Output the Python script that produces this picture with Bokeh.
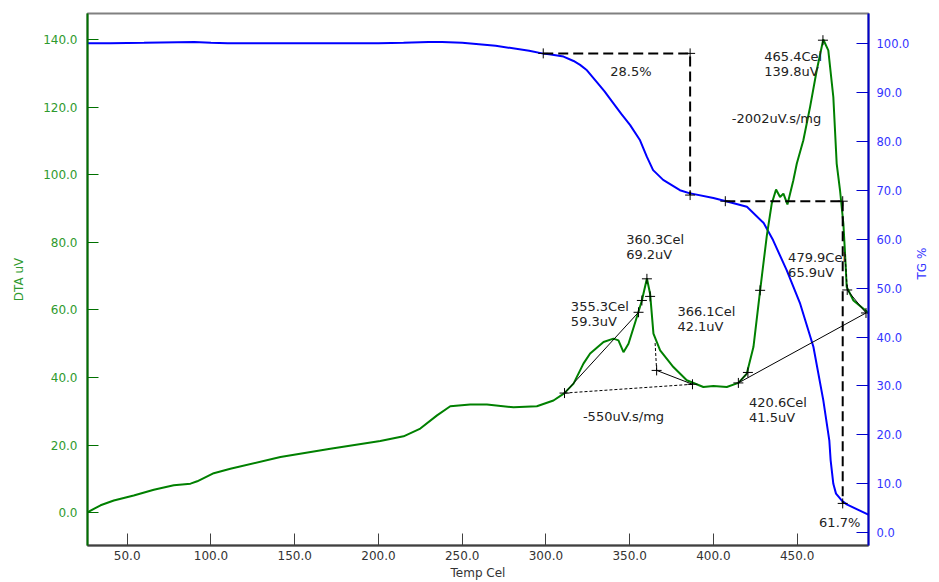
import math
from bokeh.plotting import figure
from bokeh.models import Range1d, LinearAxis, FixedTicker, PrintfTickFormatter
from bokeh.embed import file_html
from bokeh.resources import INLINE
from bokeh.core.properties import value

# ---------------- data ----------------
temp_tg = [26.3, 40, 60, 70, 90, 100, 110, 150, 200, 215, 230, 238, 250, 270, 290, 298.4,
           303, 310.5, 316.5, 320.4, 324.5, 330.4, 335, 340.2, 345, 350.3, 356.2, 360.3,
           364, 370, 380, 385.5, 400, 407, 420, 430, 435.6, 443.8, 451.8, 459.7, 465.6,
           469.2, 470.0, 471.6, 473.2, 476.6, 479.6, 492.5]
tg = [100.0, 100.0, 100.1, 100.2, 100.3, 100.1, 100.0, 100.0, 100.0, 100.1, 100.3, 100.3,
      100.1, 99.5, 98.5, 97.9, 97.7, 97.3, 96.4, 95.6, 94.5, 92.1, 90.2, 87.8, 85.6, 83.3,
      80.2, 76.8, 74.1, 72.1, 70.0, 69.4, 68.4, 67.8, 66.6, 63.3, 59.8, 53.6, 46.8, 38.0,
      27.1, 18.9, 14.8, 10.0, 8.0, 6.6, 5.8, 3.7]

temp_dta = [26.5, 34.1, 42.0, 53.9, 65.9, 77.8, 87.8, 91.8, 101.7, 111.6, 141.5, 171.3,
            201.1, 215.0, 225.0, 235.0, 242.9, 254.8, 264.8, 280.7, 294.6, 304.5, 310.9,
            316.5, 322.4, 326.4, 334.4, 340.3, 343.3, 346.3, 349.3, 354.3, 357.3, 360.3,
            362.2, 364.2, 368.2, 376.1, 384.1, 394.0, 400.0, 408.0, 414.9, 419.9, 423.9,
            427.9, 431.9, 434.8, 437.4, 439.8, 441.8, 444.2, 447.7, 449.8, 453.7, 457.7,
            461.7, 465.6, 468.6, 471.6, 473.6, 475.6, 477.6, 478.6, 479.6, 483.6, 492.6]
dta = [0.2, 2.2, 3.6, 5.1, 6.8, 8.1, 8.6, 9.3, 11.7, 13.0, 16.5, 18.9, 21.2, 22.6, 24.9,
       28.8, 31.5, 32.0, 32.0, 31.2, 31.5, 33.2, 35.3, 38.2, 44.1, 47.1, 50.5, 51.5, 51.0,
       47.5, 50.0, 57.9, 62.8, 69.3, 64.8, 53.0, 48.0, 43.1, 39.2, 37.2, 37.5, 37.2, 38.4,
       41.1, 49.0, 65.8, 82.0, 91.4, 95.6, 93.4, 94.4, 91.2, 98.3, 103.3, 110.2, 120.0,
       130.9, 140.0, 136.8, 123.0, 103.3, 95.4, 85.5, 76.6, 66.8, 62.8, 59.1]

# DTA analysis points (+ marks)
mark_temp = [311.1, 355.3, 357.3, 362.2, 360.3, 366.1, 387.5, 414.9, 420.6, 427.9, 465.4, 479.9, 491.1]
mark_dta = [35.4, 59.3, 62.8, 64.0, 69.2, 42.1, 38.0, 38.4, 41.5, 65.8, 139.8, 65.9, 59.1]

# DTA construction lines (solid / dashed)
solid_t0 = [311.1, 366.1, 414.9, 414.9, 479.9]
solid_d0 = [35.4, 42.1, 38.4, 38.4, 65.9]
solid_t1 = [355.3, 387.5, 491.1, 420.6, 491.1]
solid_d1 = [59.3, 38.0, 59.1, 41.5, 59.1]
dash_t0 = [311.1, 365.2, 478.6]
dash_d0 = [35.4, 50.2, 76.6]
dash_t1 = [387.5, 366.1, 479.9]
dash_d1 = [38.0, 42.1, 65.9]

# TG step analysis
step1_temp = [298.4, 386.1, 386.1]
step1_tg = [97.95, 97.95, 69.0]
step2_temp = [407.1, 478.0]
step2_tg = [67.75, 67.75]
step2v_temp = [477.2, 477.2]
step2v_tg = [67.75, 6.0]
tgmark_temp = [298.4, 386.1, 386.1, 407.1, 477.2, 477.2]
tgmark_tg = [97.95, 97.95, 69.0, 67.75, 67.75, 6.0]

# annotation texts (anchor = top-left, data units)
dta_lab_temp = [430.4, 347.9, 314.9, 378.5, 444.6, 421.3]
dta_lab_dta = [137.3, 83.2, 63.1, 61.8, 77.6, 34.7]
dta_lab_line1 = ["465.4Cel", "360.3Cel", "355.3Cel", "366.1Cel", "479.9Cel", "420.6Cel"]
dta_lab_line2 = ["139.8uV", "69.2uV", "59.3uV", "42.1uV", "65.9uV", "41.5uV"]
area_lab_temp = [411.0, 322.1]
area_lab_dta = [118.8, 30.7]
area_lab_text = ["-2002uV.s/mg", "-550uV.s/mg"]
tg_lab_temp = [338.4, 463.1]
tg_lab_tg = [95.8, 3.7]
tg_lab_text = ["28.5%", "61.7%"]

x_ticks = [50, 100, 150, 200, 250, 300, 350, 400, 450]
dta_ticks = [0, 20, 40, 60, 80, 100, 120, 140]
tg_ticks = [0, 10, 20, 30, 40, 50, 60, 70, 80, 90, 100]

# ---------------- figure ----------------
FONT = "DejaVu Sans"
GREEN = "#008000"
BLUE = "#0000ff"
GREEN_TXT = "#2e9a2e"
BLUE_TXT = "#3333ff"

p = figure(width=939, height=582, output_backend="svg", toolbar_location=None,
           x_range=Range1d(26.3, 492.6), y_range=Range1d(-9.7, 147.7),
           min_border_left=87, min_border_right=70, min_border_top=13, min_border_bottom=37)
p.extra_y_ranges = {"tg": Range1d(-2.6, 106.1)}
p.xgrid.visible = False
p.ygrid.visible = False
p.outline_line_color = "#808080"
p.outline_line_width = 2
p.background_fill_color = "white"
p.border_fill_color = "white"

# bottom axis
xa = p.xaxis[0]
xa.ticker = FixedTicker(ticks=x_ticks, minor_ticks=[])
xa.formatter = PrintfTickFormatter(format="%.1f")
xa.major_tick_in = 12
xa.major_tick_out = 0
xa.minor_tick_line_color = None
xa.axis_line_color = "#404040"
xa.axis_line_width = 2
xa.major_tick_line_color = "#404040"
xa.major_label_text_color = "#333333"
xa.major_label_text_font = FONT
xa.major_label_text_font_size = "12px"
xa.major_label_standoff = 5
xa.axis_label = "Temp Cel"
xa.axis_label_text_font = FONT
xa.axis_label_text_font_size = "12px"
xa.axis_label_text_font_style = "normal"
xa.axis_label_text_color = "#333333"
xa.axis_label_standoff = 3

# left axis (DTA)
ya = p.yaxis[0]
ya.ticker = FixedTicker(ticks=dta_ticks, minor_ticks=[])
ya.formatter = PrintfTickFormatter(format="%.1f")
ya.major_tick_in = 11
ya.major_tick_out = 0
ya.minor_tick_line_color = None
ya.axis_line_color = "#007000"
ya.axis_line_width = 2
ya.major_tick_line_color = "#007000"
ya.major_label_text_color = GREEN_TXT
ya.major_label_text_font = FONT
ya.major_label_text_font_size = "12px"
ya.major_label_standoff = 10
ya.axis_label = "DTA uV"
ya.axis_label_text_font = FONT
ya.axis_label_text_font_size = "12px"
ya.axis_label_text_font_style = "normal"
ya.axis_label_text_color = GREEN_TXT
ya.axis_label_standoff = 14

# right axis (TG)
ra = LinearAxis(y_range_name="tg")
ra.ticker = FixedTicker(ticks=tg_ticks, minor_ticks=[])
ra.formatter = PrintfTickFormatter(format="%.1f")
ra.major_tick_in = 12
ra.major_tick_out = 0
ra.minor_tick_line_color = None
ra.axis_line_color = "#0000cc"
ra.axis_line_width = 2
ra.major_tick_line_color = "#0000cc"
ra.major_label_text_color = BLUE_TXT
ra.major_label_text_font = FONT
ra.major_label_text_font_size = "11.5px"
ra.major_label_standoff = 8
ra.axis_label = "TG %"
ra.axis_label_text_font = FONT
ra.axis_label_text_font_size = "12px"
ra.axis_label_text_font_style = "normal"
ra.axis_label_text_color = BLUE_TXT
ra.axis_label_standoff = 10
ra.axis_label_orientation = math.pi / 2
p.add_layout(ra, "right")

# curves
p.line(temp_tg, tg, y_range_name="tg", line_color=BLUE, line_width=2)
p.line(temp_dta, dta, line_color=GREEN, line_width=2)

# DTA construction lines
p.segment(solid_t0, solid_d0, solid_t1, solid_d1, line_color="black", line_width=1)
p.segment(dash_t0, dash_d0, dash_t1, dash_d1, line_color="black", line_width=1, line_dash="3 2")
p.scatter(mark_temp, mark_dta, marker="cross", size=10, line_color="black", line_width=1)

# TG steps
p.line(step1_temp, step1_tg, y_range_name="tg", line_color="black", line_width=2, line_dash="10 5")
p.line(step2_temp, step2_tg, y_range_name="tg", line_color="black", line_width=2, line_dash="10 5")
p.line(step2v_temp, step2v_tg, y_range_name="tg", line_color="black", line_width=2, line_dash="10 5")
p.scatter(tgmark_temp, tgmark_tg, y_range_name="tg", marker="cross", size=10,
          line_color="black", line_width=1)

# texts
TXT = dict(text_font=value(FONT), text_font_size="13px", text_color="#222222",
           text_align="left", text_baseline="top")
p.text(dta_lab_temp, dta_lab_dta, text=dta_lab_line1, **TXT)
p.text(dta_lab_temp, dta_lab_dta, text=dta_lab_line2, y_offset=15, **TXT)
p.text(area_lab_temp, area_lab_dta, text=area_lab_text, **TXT)
p.text(tg_lab_temp, tg_lab_tg, text=tg_lab_text, y_range_name="tg", **TXT)

open("out.html", "w").write(file_html(p, INLINE))
